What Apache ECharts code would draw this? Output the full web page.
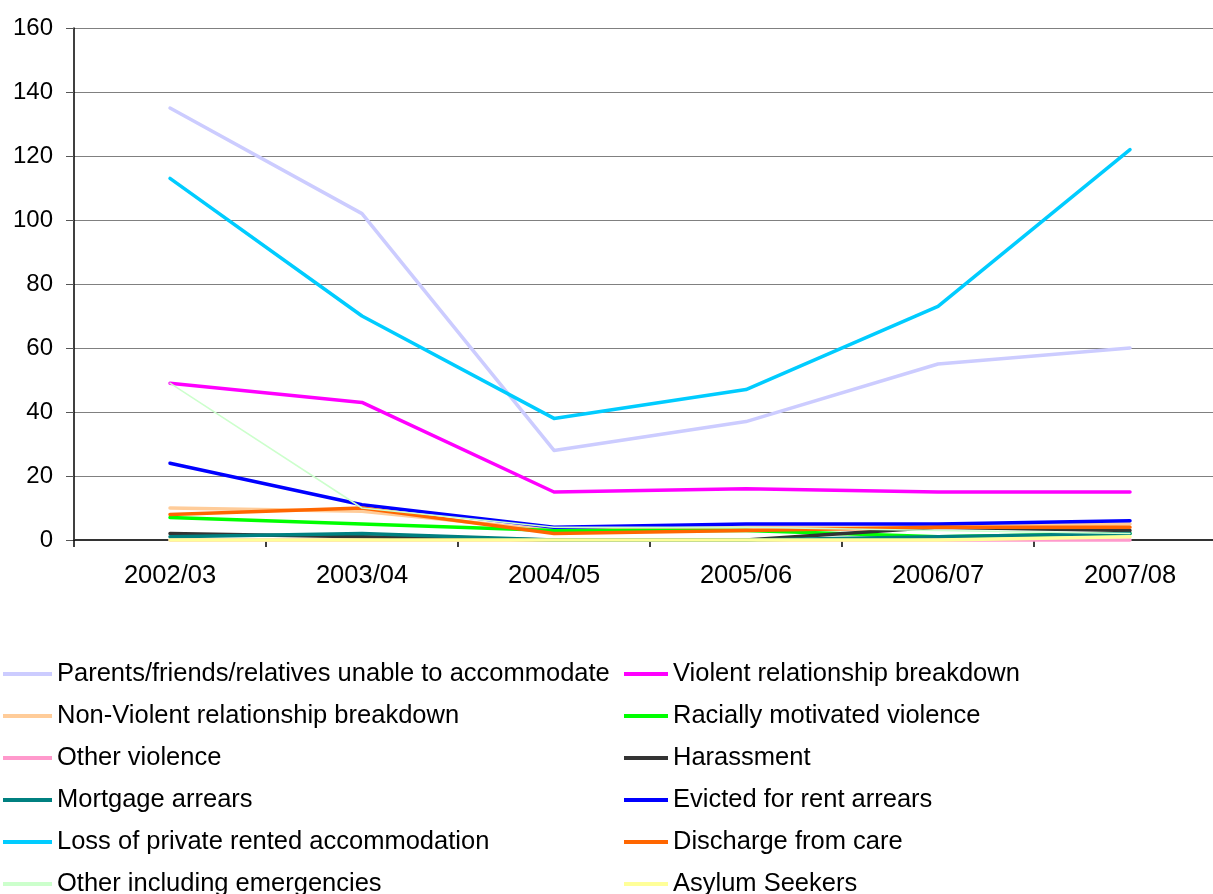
<!DOCTYPE html>
<html>
<head>
<meta charset="utf-8">
<script src="https://cdn.jsdelivr.net/npm/echarts@6/dist/echarts.min.js"></script>
<style>
  html, body { margin: 0; padding: 0; background: #fff; overflow: hidden; }
  #chart { width: 1226px; height: 894px; }
</style>
</head>
<body>
<div id="chart"></div>
<script>
// Homelessness acceptances by reason, 2002/03 to 2007/08
const years = ['2002/03', '2003/04', '2004/05', '2005/06', '2006/07', '2007/08'];
const yTicks = { min: 0, max: 160, interval: 20 };

const parentsFriends   = [135, 102, 28, 37, 55, 60];
const violentBreakdown = [49, 43, 15, 16, 15, 15];
const nonViolent       = [10, 9, 3, 4, 4, 5];
const racialViolence   = [7, 5, 3, 3, 1, 2];
const otherViolence    = [0, 0, 0, 0, 0, 0];
const harassment       = [2, 1, 0, 0, 4, 3];
const mortgageArrears  = [1, 2, 0, 0, 1, 2];
const rentArrears      = [24, 11, 4, 5, 5, 6];
const privateRented    = [113, 70, 38, 47, 73, 122];
const dischargeCare    = [8, 10, 2, 3, 4, 4];
const otherEmergency   = [49, 10, 4, 4, 3, 2];
const asylumSeekers    = [0, 0, 0, 0, 0, 1];

const seriesDefs = [
  { name: 'Parents/friends/relatives unable to accommodate', data: parentsFriends, color: '#CCCCFF', width: 3.5 },
  { name: 'Violent relationship breakdown', data: violentBreakdown, color: '#FF00FF', width: 3.5 },
  { name: 'Non-Violent relationship breakdown', data: nonViolent, color: '#FFCC99', width: 3.5 },
  { name: 'Racially motivated violence', data: racialViolence, color: '#00FF00', width: 3.5 },
  { name: 'Other violence', data: otherViolence, color: '#FF99CC', width: 3.5 },
  { name: 'Harassment', data: harassment, color: '#333333', width: 3.5 },
  { name: 'Mortgage arrears', data: mortgageArrears, color: '#008080', width: 3.5 },
  { name: 'Evicted for rent arrears', data: rentArrears, color: '#0000FF', width: 3.5 },
  { name: 'Loss of private rented accommodation', data: privateRented, color: '#00CCFF', width: 3.5 },
  { name: 'Discharge from care', data: dischargeCare, color: '#FF6600', width: 3.5 },
  { name: 'Other including emergencies', data: otherEmergency, color: '#CCFFCC', width: 1.5 },
  { name: 'Asylum Seekers', data: asylumSeekers, color: '#FFFF99', width: 3.5 }
];

const font = 'Liberation Sans, Arial, sans-serif';

// Two-column legend: one legend component per entry, placed row by row
const legends = seriesDefs.map((s, i) => {
  const col = i % 2;
  const row = Math.floor(i / 2);
  return {
    orient: 'horizontal',
    left: col === 0 ? 3 : 624,
    top: 674 + row * 42 - 15,
    padding: 0,
    itemWidth: col === 0 ? 49 : 44,
    itemHeight: 4,
    itemGap: 0,
    icon: 'rect',
    selectedMode: false,
    data: [s.name],
    textStyle: { fontFamily: font, fontSize: 25.5, color: '#000', lineHeight: 30, padding: [0, 0, 0, 0] }
  };
});

const chart = echarts.init(document.getElementById('chart'), null, { renderer: 'canvas' });
chart.setOption({
  animation: false,
  backgroundColor: '#fff',
  // the plot runs slightly past the visible right edge
  grid: { left: 74, top: 28, right: 0, height: 512, containLabel: false },
  legend: legends,
  xAxis: {
    type: 'category',
    data: years,
    boundaryGap: true,
    axisLine: { lineStyle: { color: '#333', width: 2 } },
    axisTick: { show: true, alignWithLabel: false, length: 7, inside: false, lineStyle: { color: '#000', width: 1.5 } },
    axisLabel: { fontFamily: font, fontSize: 25.5, color: '#000', margin: 23 },
    splitLine: { show: false }
  },
  yAxis: {
    type: 'value',
    min: yTicks.min,
    max: yTicks.max,
    interval: yTicks.interval,
    axisLine: { show: true, lineStyle: { color: '#000', width: 1.5 } },
    axisTick: { show: true, length: 8, lineStyle: { color: '#555' } },
    axisLabel: { fontFamily: font, fontSize: 24, color: '#000', margin: 21 },
    splitLine: { show: true, lineStyle: { color: '#808080', width: 1 } }
  },
  series: seriesDefs.map(s => ({
    name: s.name,
    type: 'line',
    data: s.data,
    symbol: 'none',
    color: s.color,
    lineStyle: { color: s.color, width: s.width, cap: 'round', join: 'round' },
    itemStyle: { color: s.color },
    clip: false
  }))
});
</script>
</body>
</html>
